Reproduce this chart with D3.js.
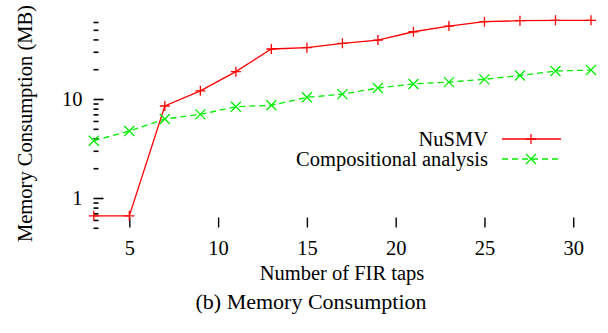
<!DOCTYPE html>
<html>
<head>
<meta charset="utf-8">
<script src="https://cdn.jsdelivr.net/npm/d3@7"></script>
<style>
  body { margin: 0; background: #fff; }
  text { font-family: "Liberation Serif", "Times New Roman", serif; }
</style>
</head>
<body>
<script>
// taps on the x axis
var taps = [3, 5, 7, 9, 11, 13, 15, 17, 19, 21, 23, 25, 27, 29, 31];
// memory in MB
var nusmv = [0.66, 0.66, 8.5, 12.1, 18.9, 32.0, 33.0, 36.5, 39.4, 47.8, 54.6, 60.4, 61.8, 62.3, 62.3];
var compositional = [3.79, 4.75, 6.28, 7.0, 8.36, 8.64, 10.4, 11.2, 12.9, 14.2, 14.8, 15.8, 17.3, 19.2, 19.6];

var xTicks = [5, 10, 15, 20, 25, 30];
var yMajor = [1, 10];
var yMinor = [0.5, 0.6, 0.7, 0.8, 0.9, 2, 3, 4, 5, 6, 7, 8, 9, 20, 30, 40, 50, 60];

var seriesNames = ["NuSMV", "Compositional analysis"];

var width = 608, height = 333;

var svg = d3.select("body")
    .append("svg")
        .attr("width", width)
        .attr("height", height);

// Set the ranges
var x = d3.scaleLinear().domain([3, 31]).range([93.8, 591]);
var y = d3.scaleLog().domain([0.5, 64]).range([227.8, 19.2]);

var bottom = 227.5, left = 93.5;

// X axis (ticks only, no border)
var xAxis = svg.append("g")
    .attr("transform", "translate(0," + bottom + ")")
    .call(d3.axisBottom(x).tickValues(xTicks).tickSize(-10).tickPadding(0));
xAxis.select(".domain").remove();
xAxis.selectAll(".tick line").attr("stroke-width", 1.4);
xAxis.selectAll(".tick text")
    .attr("y", 27).attr("dy", 0)
    .attr("font-size", 20.5).attr("fill", "#000")
    .style("font-family", "Liberation Serif");

// Y axis, minor ticks
var yMin = svg.append("g")
    .attr("transform", "translate(" + left + ",0)")
    .call(d3.axisLeft(y).tickValues(yMinor).tickSize(-5).tickFormat(""));
yMin.select(".domain").remove();
yMin.selectAll(".tick line").attr("stroke-width", 1.6);

// Y axis, major ticks
var yMaj = svg.append("g")
    .attr("transform", "translate(" + left + ",0)")
    .call(d3.axisLeft(y).tickValues(yMajor).tickSize(-10).tickPadding(11).tickFormat(d3.format("d")));
yMaj.select(".domain").remove();
yMaj.selectAll(".tick line").attr("stroke-width", 1.6);
yMaj.selectAll(".tick text")
    .attr("font-size", 20.5).attr("fill", "#000")
    .style("font-family", "Liberation Serif");

// Lines
var line = d3.line()
    .x(function(d) { return x(d[0]); })
    .y(function(d) { return y(d[1]); });

var colors = ["#ff0000", "#00ee00"];
var dashes = [null, "6,4"];
var data = [nusmv, compositional];

function plusMark(g, cx, cy, c) {
    g.append("path")
        .attr("d", "M" + (cx - 5) + "," + cy + "H" + (cx + 5) + "M" + cx + "," + (cy - 5) + "V" + (cy + 5))
        .attr("stroke", c).attr("stroke-width", 1.3).attr("fill", "none");
}
function crossMark(g, cx, cy, c) {
    g.append("path")
        .attr("d", "M" + (cx - 5) + "," + (cy - 5) + "L" + (cx + 5) + "," + (cy + 5) +
                   "M" + (cx - 5) + "," + (cy + 5) + "L" + (cx + 5) + "," + (cy - 5))
        .attr("stroke", c).attr("stroke-width", 1.3).attr("fill", "none");
}
var marks = [plusMark, crossMark];

data.forEach(function(vals, i) {
    var pts = taps.map(function(t, j) { return [t, vals[j]]; });
    svg.append("path")
        .attr("d", line(pts))
        .attr("fill", "none")
        .attr("stroke", colors[i])
        .attr("stroke-width", 1.3)
        .attr("stroke-dasharray", dashes[i]);
    var g = svg.append("g");
    pts.forEach(function(p) { marks[i](g, x(p[0]), y(p[1]), colors[i]); });
});

// Legend
var legendY = [139, 159];
seriesNames.forEach(function(name, i) {
    svg.append("text")
        .attr("x", 488)
        .attr("y", legendY[i] + 7)
        .attr("text-anchor", "end")
        .attr("font-size", 20.5)
        .text(name);
    svg.append("line")
        .attr("x1", 502).attr("x2", 561)
        .attr("y1", legendY[i]).attr("y2", legendY[i])
        .attr("stroke", colors[i]).attr("stroke-width", 1.3)
        .attr("stroke-dasharray", dashes[i]);
    marks[i](svg, 531, legendY[i], colors[i]);
});

// Axis labels
svg.append("text")
    .attr("x", 342)
    .attr("y", 280)
    .attr("text-anchor", "middle")
    .attr("font-size", 20.5)
    .text("Number of FIR taps");

svg.append("text")
    .attr("transform", "translate(32,123.5) rotate(-90)")
    .attr("text-anchor", "middle")
    .attr("font-size", 20.5)
    .text("Memory Consumption (MB)");

// Caption
svg.append("text")
    .attr("x", 311)
    .attr("y", 309)
    .attr("text-anchor", "middle")
    .attr("font-size", 22)
    .text("(b) Memory Consumption");
</script>
</body>
</html>
